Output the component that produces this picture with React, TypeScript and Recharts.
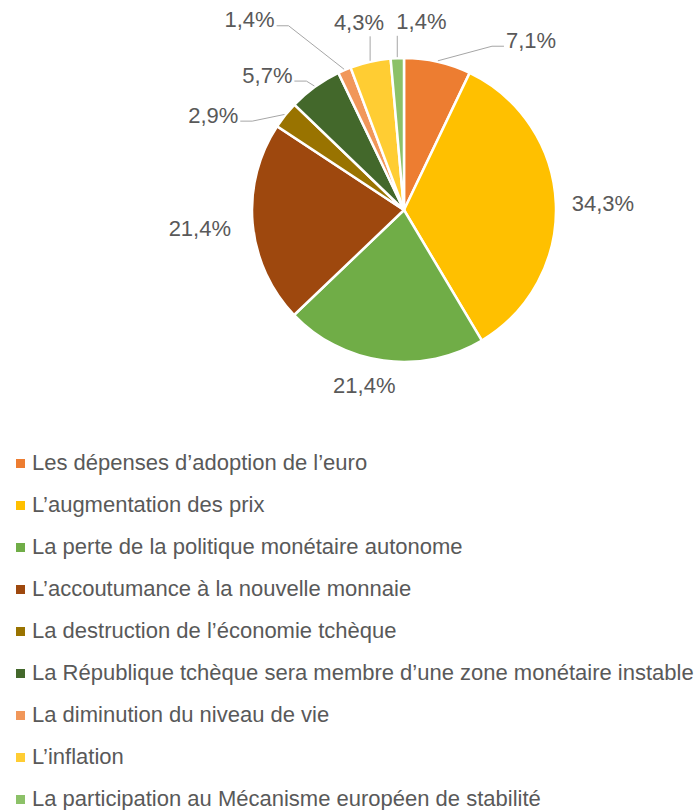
import React from "react";
import { PieChart, Pie, Cell, Legend } from "recharts";

const categories = [
  "Les dépenses d’adoption de l’euro",
  "L’augmentation des prix",
  "La perte de la politique monétaire autonome",
  "L’accoutumance à la nouvelle monnaie",
  "La destruction de l’économie tchèque",
  "La République tchèque sera membre d’une zone monétaire instable",
  "La diminution du niveau de vie",
  "L’inflation",
  "La participation au Mécanisme européen de stabilité",
];
const shares = [7.1, 34.3, 21.4, 21.4, 2.9, 5.7, 1.4, 4.3, 1.4];
const colors = [
  "#ED7D31",
  "#FFC000",
  "#70AD47",
  "#9E480E",
  "#997300",
  "#43682B",
  "#F1975A",
  "#FFCD33",
  "#8CC168",
];

// label placement: angle shift from slice middle (clockwise deg), distance from centre, leader type
const labelLayout = [
  { shift: 24, dist: 212, leader: "elbow" },
  { shift: 0.6, dist: 199, leader: "none" },
  { shift: 5, dist: 180, leader: "none" },
  { shift: 0, dist: 205, leader: "none" },
  { shift: -12.2, dist: 213, leader: "elbow" },
  { shift: -9.5, dist: 192, leader: "elbow" },
  { shift: -16, dist: 245, leader: "elbow" },
  { shift: -0.7, dist: 193, leader: "vertical" },
  { shift: 7.8, dist: 189, leader: "vertical" },
];

const data = categories.map((name, i) => ({ name, value: shares[i] }));

const FONT = "'Liberation Sans', Arial, sans-serif";
const TEXT = "#595959";
const RAD = Math.PI / 180;

const fmt = (v: number) => v.toFixed(1).replace(".", ",") + "%";

function renderLabel(props: any) {
  const { cx, cy, midAngle, outerRadius, index, value } = props;
  const lay = labelLayout[index];
  const clockMid = 90 - midAngle;
  const clockLab = clockMid + lay.shift;
  const tx = cx + lay.dist * Math.sin(clockLab * RAD);
  const ty = cy - lay.dist * Math.cos(clockLab * RAD);
  const px = cx + (outerRadius + 1) * Math.sin(clockMid * RAD);
  const py = cy - (outerRadius + 1) * Math.cos(clockMid * RAD);
  let line: React.ReactNode = null;
  if (lay.leader === "elbow") {
    const side = tx > px ? 1 : -1;
    const ex = tx - side * 27;
    const ey = ty + 6;
    const hx = ex - side * 12;
    line = (
      <polyline
        points={`${px},${py} ${hx},${ey} ${ex},${ey}`}
        fill="none"
        stroke="#A6A6A6"
        strokeWidth={1}
      />
    );
  } else if (lay.leader === "vertical") {
    line = <line x1={px} y1={py} x2={px} y2={ty + 14} stroke="#A6A6A6" strokeWidth={1} />;
  }
  return (
    <g key={`lab-${index}`}>
      {line}
      <text
        x={tx}
        y={ty}
        textAnchor="middle"
        dominantBaseline="central"
        fill={TEXT}
        fontSize={22}
        fontFamily={FONT}
      >
        {fmt(value)}
      </text>
    </g>
  );
}

function LegendList() {
  return (
    <div>
      {data.map((d, i) => (
        <div
          key={d.name}
          style={{ height: 42, display: "flex", alignItems: "center", whiteSpace: "nowrap" }}
        >
          <span
            style={{
              width: 9,
              height: 9,
              background: colors[i],
              marginLeft: 16,
              marginRight: 7,
              flex: "none",
            }}
          />
          <span style={{ fontFamily: FONT, fontSize: 22, color: TEXT }}>{d.name}</span>
        </div>
      ))}
    </div>
  );
}

export default function App() {
  return (
    <div style={{ position: "absolute", left: 0, top: 0, width: 695, height: 810, background: "#fff" }}>
      <PieChart width={695} height={810} margin={{ top: 0, right: 0, bottom: 0, left: 0 }}>
        <Pie
          data={data}
          dataKey="value"
          nameKey="name"
          cx={404}
          cy={210}
          outerRadius={152}
          startAngle={90}
          endAngle={-270}
          stroke="#fff"
          strokeWidth={2.5}
          label={renderLabel}
          labelLine={false}
          isAnimationActive={false}
        >
          {data.map((d, i) => (
            <Cell key={d.name} fill={colors[i]} />
          ))}
        </Pie>
        <Legend
          content={() => <LegendList />}
          wrapperStyle={{ position: "absolute", left: 0, top: 442, width: 695 }}
        />
      </PieChart>
    </div>
  );
}
